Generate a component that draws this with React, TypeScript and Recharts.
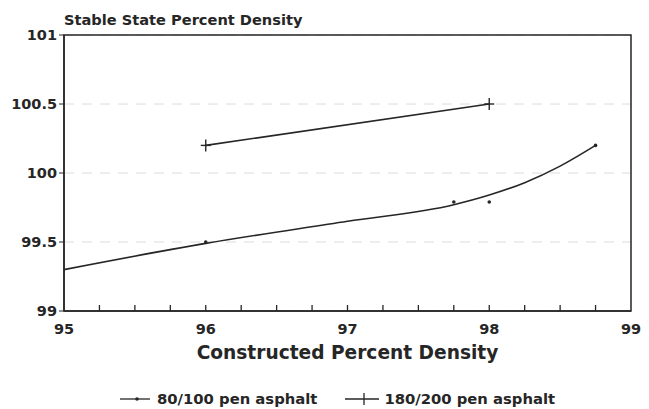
import React from "react"
import {
  ComposedChart,
  Line,
  Scatter,
  XAxis,
  YAxis,
  CartesianGrid,
  ReferenceArea,
  Legend,
} from "recharts"

const FONT = "'DejaVu Sans', sans-serif"
const INK = "#262626"

// 80/100 pen asphalt: measured points
const soft = [
  { x: 96, y: 99.5 },
  { x: 97.75, y: 99.79 },
  { x: 98, y: 99.79 },
  { x: 98.75, y: 100.2 },
]

// 80/100 pen asphalt: fitted curve
const softFit = [
  { x: 95, y: 99.3 },
  { x: 96, y: 99.49 },
  { x: 97, y: 99.65 },
  { x: 97.75, y: 99.77 },
  { x: 98, y: 99.84 },
  { x: 98.25, y: 99.93 },
  { x: 98.5, y: 100.05 },
  { x: 98.75, y: 100.2 },
]

// 180/200 pen asphalt
const hard = [
  { x: 96, y: 100.2 },
  { x: 98, y: 100.5 },
]

const xTicks = [95, 95.25, 95.5, 95.75, 96, 96.25, 96.5, 96.75, 97, 97.25, 97.5, 97.75, 98, 98.25, 98.5, 98.75, 99]
const xLabels = [95, 96, 97, 98, 99]
const yTicks = [99, 99.5, 100, 100.5, 101]

const XTick = (props: any) => {
  const { x, y, payload } = props
  const v = payload.value
  return (
    <g>
      {v > 95 && v < 99 && <line x1={x} x2={x} y1={y} y2={y - 6} stroke={INK} strokeWidth={1.3} />}
      {xLabels.includes(v) && (
        <text x={x} y={y + 23} textAnchor="middle" fontFamily={FONT} fontWeight="bold" fontSize={14.5} fill={INK}>
          {v}
        </text>
      )}
    </g>
  )
}

const PlusDot = (props: any) => {
  const { cx, cy } = props
  if (cx == null || cy == null) return null
  return (
    <g>
      <line x1={cx - 5} x2={cx + 5} y1={cy} y2={cy} stroke={INK} strokeWidth={1.4} />
      <line x1={cx} x2={cx} y1={cy - 6} y2={cy + 6} stroke={INK} strokeWidth={1.4} />
    </g>
  )
}

const SmallDot = (props: any) => {
  const { cx, cy } = props
  return <circle cx={cx} cy={cy} r={1.8} fill={INK} />
}

const renderLegend = () => (
  <div style={{ display: "flex", alignItems: "center", height: 16, paddingLeft: 120, fontFamily: FONT, fontWeight: "bold", fontSize: 14.8, color: INK, lineHeight: "16px" }}>
    <svg width={32} height={14}>
      <line x1={0} x2={30} y1={7} y2={7} stroke={INK} strokeWidth={1.3} />
      <circle cx={17} cy={7} r={1.8} fill={INK} />
    </svg>
    <span style={{ marginLeft: 5 }}>80/100 pen asphalt</span>
    <svg width={34} height={14} style={{ marginLeft: 28 }}>
      <line x1={0} x2={34} y1={7} y2={7} stroke={INK} strokeWidth={1.3} />
      <line x1={19} x2={19} y1={1} y2={13} stroke={INK} strokeWidth={1.3} />
    </svg>
    <span style={{ marginLeft: 5 }}>180/200 pen asphalt</span>
  </div>
)

export default function App() {
  return (
    <div style={{ position: "absolute", left: 0, top: 0, width: 649, height: 409, background: "#fff" }}>
      <ComposedChart width={649} height={409} margin={{ top: 35, right: 18, left: 0, bottom: 52 }}>
        <text x={64} y={25} fontFamily={FONT} fontWeight="bold" fontSize={14.6} fill={INK}>
          Stable State Percent Density
        </text>
        <CartesianGrid vertical={false} stroke="#dcdcdc" strokeDasharray="10 8" />
        <XAxis
          dataKey="x"
          type="number"
          domain={[95, 99]}
          ticks={xTicks}
          interval={0}
          tickSize={0}
          tickMargin={0}
          tickLine={false}
          axisLine={{ stroke: INK, strokeWidth: 1.5 }}
          tick={<XTick />}
          height={30}
          label={{
            value: "Constructed Percent Density",
            position: "bottom",
            offset: 5,
            style: { fontFamily: FONT, fontWeight: "bold", fontSize: 18.6, fill: INK },
          }}
        />
        <YAxis
          dataKey="y"
          type="number"
          domain={[99, 101]}
          ticks={yTicks}
          interval={0}
          width={64}
          tickSize={5}
          tickMargin={2}
          tickLine={{ stroke: INK }}
          axisLine={{ stroke: INK, strokeWidth: 1.5 }}
          tick={{ fontFamily: FONT, fontWeight: "bold", fontSize: 14.5, fill: INK }}
        />
        <ReferenceArea x1={95} x2={99} y1={99} y2={101} fill="none" stroke={INK} strokeWidth={1.5} />
        <Line data={softFit} dataKey="y" type="monotone" stroke={INK} strokeWidth={1.6} dot={false} activeDot={false} isAnimationActive={false} legendType="none" />
        <Scatter data={soft} dataKey="y" shape={<SmallDot />} fill={INK} isAnimationActive={false} legendType="none" />
        <Line data={hard} dataKey="y" type="linear" stroke={INK} strokeWidth={1.6} dot={<PlusDot />} activeDot={false} isAnimationActive={false} legendType="none" />
        <Legend content={renderLegend} wrapperStyle={{ left: 0, top: 391, width: 649 }} />
      </ComposedChart>
    </div>
  )
}
